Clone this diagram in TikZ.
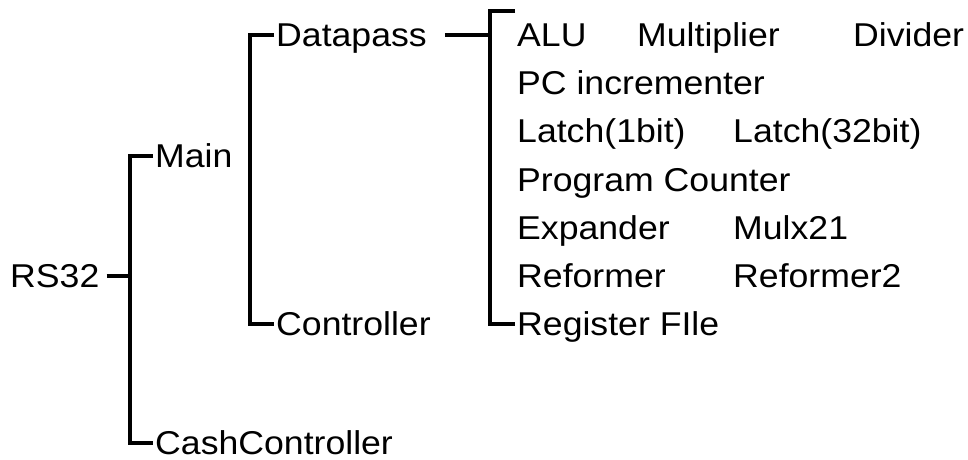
\documentclass[tikz,border=0pt]{standalone}
\usepackage{fontspec}
\setmainfont{Liberation Sans}[FakeStretch=1.08]
\begin{document}
\begin{tikzpicture}[x=1pt,y=-1pt,
  lbl/.style={anchor=west,inner xsep=2pt,inner ysep=0pt,
    text height=23.6pt,text depth=0pt,font=\fontsize{33}{37}\selectfont},
  conn/.style={line width=4.5pt,line join=miter,line cap=butt}]
\useasboundingbox (0,0) rectangle (968,459);

% first level
\node[lbl] (rs32) at (8,276) {RS32};
\node[lbl] (main) at (153,156) {Main};
\node[lbl] (cash) at (153,443) {CashController};

% second level
\node[lbl] (dp)  at (274,35)  {Datapass};
\node[lbl] (ctl) at (274,324) {Controller};

% datapath components
\node[lbl] (alu)  at (515,35)  {ALU};
\node[lbl] (mul)  at (635,35)  {Multiplier};
\node[lbl] (div)  at (851,35)  {Divider};
\node[lbl] (pci)  at (515,83)  {PC incrementer};
\node[lbl] (l1)   at (515,131) {Latch(1bit)};
\node[lbl] (l32)  at (731,131) {Latch(32bit)};
\node[lbl] (pc)   at (515,180) {Program Counter};
\node[lbl] (exp)  at (515,228) {Expander};
\node[lbl] (mux)  at (731,228) {Mulx21};
\node[lbl] (ref)  at (515,276) {Reformer};
\node[lbl] (ref2) at (731,276) {Reformer2};
\node[lbl] (reg)  at (515,324) {Register FIle};

% junction points of the brackets
\coordinate (j1) at (130,276);
\coordinate (j2) at (250,180);
\coordinate (j3) at (490,35);
\coordinate (top) at (515,11);

% RS32 -> Main / CashController
\draw[conn] ([xshift=5pt]rs32.east) -- (j1);
\draw[conn] (main.west) -| (j1) |- (cash.west);

% Main -> Datapass / Controller
\draw[conn] (dp.west) -| (j2) |- (ctl.west);

% Datapass -> components
\draw[conn] ([xshift=16pt]dp.east) -- (j3);
\draw[conn] (top) -| (j3) |- (reg.west);
\end{tikzpicture}
\end{document}
